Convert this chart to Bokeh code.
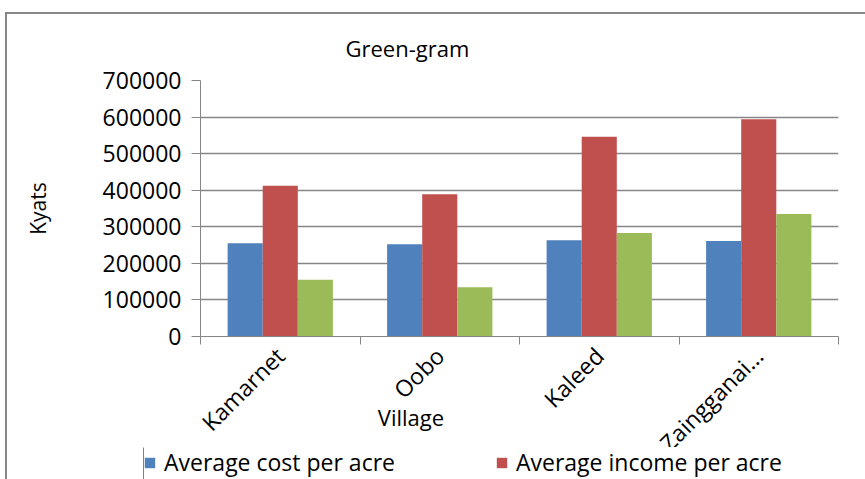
import math
from bokeh.plotting import figure
from bokeh.layouts import column
from bokeh.models import ColumnDataSource, FixedTicker, Legend, LegendItem, BasicTickFormatter
from bokeh.embed import file_html
from bokeh.resources import INLINE

villages = ["Kamarnet", "Oobo", "Kaleed", "Zaingganai..."]
cost = [255000, 252000, 263000, 261000]
income = [412000, 389000, 546000, 594000]
profit = [155000, 135000, 283000, 335000]
y_ticks = [0, 100000, 200000, 300000, 400000, 500000, 600000, 700000]

series_names = ["Average cost per acre", "Average income per acre"]
colors = ["#4F81BD", "#C0504D", "#9BBB59"]
FONT = "Open Sans"

centers = [i + 0.5 for i in range(len(villages))]

p = figure(width=858, height=433, output_backend="svg", toolbar_location=None,
           x_range=(0, len(villages)), y_range=(0, 700000),
           min_border_left=193, min_border_right=27, min_border_top=66, min_border_bottom=111)

sources = []
for k, (vals, col) in enumerate(zip([cost, income, profit], colors)):
    xs = [c + (k - 1) * 0.22 for c in centers]
    src = ColumnDataSource(dict(x=xs, top=vals))
    sources.append(src)
    p.vbar(x="x", top="top", width=0.22, source=src, fill_color=col, line_color=None)

p.outline_line_color = None
p.xgrid.visible = False
p.ygrid.grid_line_color = "#868686"
p.ygrid.grid_line_width = 1.3
p.ygrid.ticker = FixedTicker(ticks=y_ticks)

yax = p.yaxis[0]
yax.ticker = FixedTicker(ticks=y_ticks)
yax.formatter = BasicTickFormatter(use_scientific=False)
yax.axis_line_color = "#868686"
yax.major_tick_line_color = "#868686"
yax.major_tick_out = 9
yax.major_tick_in = 0
yax.minor_tick_line_color = None
yax.major_label_text_font = FONT
yax.major_label_text_font_size = "23px"
yax.major_label_text_color = "#000000"
yax.major_label_standoff = 10
yax.axis_label = "Kyats"
yax.axis_label_text_font = FONT
yax.axis_label_text_font_style = "normal"
yax.axis_label_text_font_size = "21px"
yax.axis_label_text_color = "#000000"
yax.axis_label_standoff = 48

xax = p.xaxis[0]
xax.ticker = FixedTicker(ticks=centers, minor_ticks=list(range(len(villages) + 1)))
xax.major_label_overrides = {c: v for c, v in zip(centers, villages)}
xax.major_label_orientation = math.pi / 4
xax.major_tick_line_color = None
xax.minor_tick_line_color = "#868686"
xax.minor_tick_out = 8
xax.minor_tick_in = 0
xax.axis_line_color = "#868686"
xax.major_label_text_font = FONT
xax.major_label_text_font_size = "23px"
xax.major_label_text_color = "#000000"
xax.major_label_standoff = 7
xax.axis_label = "Village" + "\u00a0" * 38
xax.axis_label_text_font = FONT
xax.axis_label_text_font_style = "normal"
xax.axis_label_text_font_size = "22px"
xax.axis_label_text_color = "#000000"
xax.axis_label_standoff = -70

p.title.text = "Green-gram"
p.title.text_font = FONT
p.title.text_font_style = "normal"
p.title.text_font_size = "22px"
p.title.text_color = "#000000"
p.title.align = "left"
p.title.offset = 145
p.title.standoff = 34
p.title.vertical_align = "middle"

# legend strip below the chart
p2 = figure(width=858, height=32, output_backend="svg", toolbar_location=None,
            x_range=(100, 101), y_range=(0, 1), min_border=0,
            x_axis_type=None, y_axis_type=None)
p2.styles = {"margin-left": "-57px"}
p2.grid.visible = False
p2.outline_line_color = None
p2.background_fill_alpha = 0
p2.border_fill_alpha = 0
leg_renderers = []
for src, col in zip(sources[:2], colors[:2]):
    leg_renderers.append(p2.vbar(x="x", top="top", width=0.22, source=src,
                                 fill_color=col, line_color=None))

legend = Legend(items=[LegendItem(label=n, renderers=[r]) for n, r in zip(series_names, leg_renderers)],
                orientation="horizontal", location=(0, 1),
                label_text_font=FONT, label_text_font_size="23px", label_text_color="#000000",
                glyph_width=13, glyph_height=13, label_standoff=8, spacing=100,
                padding=0, margin=0, border_line_color=None, background_fill_alpha=0)
p2.add_layout(legend, "center")

layout = column(p, p2, spacing=0)
layout.styles = {"margin-left": "5px", "margin-top": "12px",
                 "border-left": "2px solid #878787", "border-top": "2px solid #878787"}

open("out.html", "w").write(file_html(layout, INLINE))
